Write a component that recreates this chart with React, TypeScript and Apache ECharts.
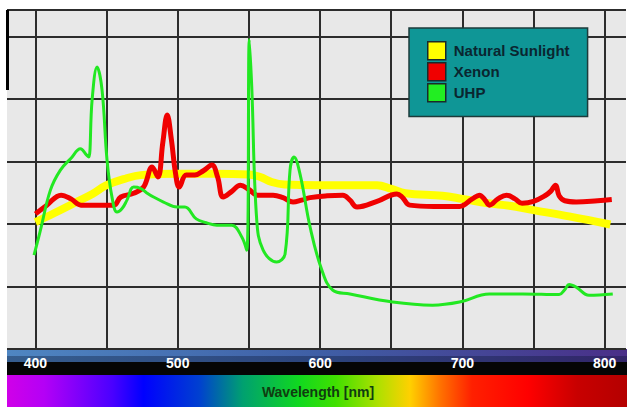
import React, { useEffect, useRef } from 'react';
import * as echarts from 'echarts';

// Natural Sunlight
const sunWl = [400, 413, 427, 440, 450, 464, 474, 500, 525, 550, 558, 566, 575, 600, 640, 650, 660, 686, 700, 718, 733, 750, 775, 804];
const sunVal = [2.03, 2.17, 2.33, 2.48, 2.62, 2.73, 2.78, 2.80, 2.80, 2.79, 2.75, 2.67, 2.63, 2.62, 2.62, 2.56, 2.49, 2.45, 2.40, 2.33, 2.29, 2.22, 2.12, 1.99];

// Xenon
const xenonWl = [400, 408, 418, 425, 432, 445, 455, 460, 469, 476, 482, 486, 489.5, 492.6, 495.5, 498.5, 501, 506, 512, 518, 524, 528, 532, 538, 544, 550, 556, 567, 574, 581, 587, 593, 605, 616, 621, 626, 640, 654, 658, 663, 680, 698, 707, 712, 716, 719, 725, 731, 737, 742, 750, 758, 762, 765.5, 768, 772, 780, 795, 805];
const xenonVal = [2.16, 2.30, 2.46, 2.40, 2.30, 2.30, 2.30, 2.43, 2.49, 2.59, 2.91, 2.75, 3.30, 3.74, 3.35, 2.80, 2.59, 2.78, 2.78, 2.85, 2.94, 2.75, 2.43, 2.52, 2.62, 2.55, 2.46, 2.46, 2.42, 2.35, 2.38, 2.42, 2.45, 2.46, 2.38, 2.27, 2.36, 2.48, 2.42, 2.30, 2.28, 2.28, 2.40, 2.46, 2.38, 2.30, 2.40, 2.46, 2.40, 2.33, 2.36, 2.45, 2.52, 2.62, 2.45, 2.37, 2.35, 2.37, 2.39];

// UHP
const uhpWl = [399, 403.5, 410.5, 417.5, 425, 431.6, 436, 437.5, 439.8, 443.3, 446.8, 450.3, 454, 457.3, 461, 464.3, 469, 473.7, 478, 483, 490, 499.4, 505, 513, 520, 527.5, 538, 545, 548.5, 550.3, 552, 555.5, 560, 569.5, 575.4, 578.9, 581.7, 585.9, 593, 601, 609, 621, 651, 679, 698, 719, 742.5, 768, 772, 775, 780, 789, 805.7];
const uhpVal = [1.50, 1.90, 2.54, 2.86, 3.05, 3.20, 3.10, 3.07, 3.98, 4.51, 4.14, 3.02, 2.40, 2.19, 2.25, 2.38, 2.59, 2.57, 2.50, 2.43, 2.35, 2.27, 2.27, 2.08, 2.02, 1.98, 1.98, 1.79, 1.58, 4.95, 4.19, 2.06, 1.58, 1.39, 1.52, 2.86, 3.07, 2.80, 1.95, 1.28, 0.94, 0.88, 0.75, 0.70, 0.75, 0.88, 0.88, 0.87, 0.95, 1.03, 0.99, 0.86, 0.88];

const gridTicks = [400, 450, 500, 550, 600, 650, 700, 750, 800];
const xTickLabels = [400, 500, 600, 700, 800];
const seriesNames = ['Natural Sunlight', 'Xenon', 'UHP'];

const zip = (a: number[], b: number[]) => a.map((x, i) => [x, b[i]]);

const FONT = 'Liberation Sans, Arial, sans-serif';

export default function App() {
  const ref = useRef<HTMLDivElement>(null);
  useEffect(() => {
    const chart = echarts.init(ref.current!, null, { renderer: 'svg' });
    const lineBase = {
      type: 'line' as const,
      symbol: 'none',
      showSymbol: false,
      smooth: 0.4,
    };
    chart.setOption({
      animation: false,
      grid: {
        left: 7,
        right: 1,
        top: 10,
        bottom: 58,
        show: true,
        backgroundColor: '#e8e8e8',
        borderWidth: 0,
      },
      xAxis: {
        type: 'value',
        min: 380,
        max: 815,
        axisLine: { show: false },
        axisTick: { show: false, customValues: gridTicks },
        axisLabel: {
          customValues: xTickLabels,
          color: '#ffffff',
          fontFamily: FONT,
          fontWeight: 'bold',
          fontSize: 14,
          margin: 7,
        },
        splitLine: { show: true, lineStyle: { color: '#2c2c2c', width: 2 } },
      },
      yAxis: {
        type: 'value',
        min: 0,
        max: 5.42,
        interval: 1,
        axisLine: { show: false },
        axisTick: { show: false },
        axisLabel: { show: false },
        splitLine: { show: true, lineStyle: { color: '#2c2c2c', width: 2 } },
      },
      legend: {
        data: seriesNames,
        orient: 'vertical',
        left: 409,
        top: 28,
        icon: 'rect',
        itemWidth: 18,
        itemHeight: 18,
        itemGap: 1.5,
        padding: [13, 18, 14, 18],
        backgroundColor: '#0f9696',
        borderColor: '#1d3b3b',
        borderWidth: 1.5,
        itemStyle: { borderColor: '#1a2a2a', borderWidth: 1.5 },
        textStyle: {
          color: '#0a2630',
          fontFamily: FONT,
          fontWeight: 'bold',
          fontSize: 15,
          padding: [0, 0, 0, 3],
        },
      },
      graphic: [
        {
          type: 'rect',
          z: -1,
          shape: { x: 7, y: 349, width: 620, height: 13 },
          style: {
            fill: {
              type: 'linear', x: 0, y: 0, x2: 1, y2: 0,
              colorStops: [
                { offset: 0, color: '#4f86c2' },
                { offset: 0.5, color: '#3f5fa6' },
                { offset: 1, color: '#4a2f88' },
              ],
            },
          },
        },
        {
          type: 'rect',
          z: -1,
          shape: { x: 7, y: 356, width: 620, height: 6 },
          style: { fill: 'rgba(10,20,50,0.35)' },
        },
        {
          type: 'rect',
          z: -1,
          shape: { x: 7, y: 362, width: 620, height: 13 },
          style: { fill: '#050505' },
        },
        {
          type: 'rect',
          z: -1,
          shape: { x: 7, y: 375, width: 620, height: 32 },
          style: {
            fill: {
              type: 'linear', x: 0, y: 0, x2: 1, y2: 0,
              colorStops: [
                { offset: 0, color: '#d000e8' },
                { offset: 0.06, color: '#b400f6' },
                { offset: 0.17, color: '#4a00ff' },
                { offset: 0.22, color: '#0000ff' },
                { offset: 0.31, color: '#0040d0' },
                { offset: 0.38, color: '#00a070' },
                { offset: 0.47, color: '#10d820' },
                { offset: 0.53, color: '#40e000' },
                { offset: 0.6, color: '#b0e000' },
                { offset: 0.65, color: '#ffd000' },
                { offset: 0.7, color: '#ff7000' },
                { offset: 0.75, color: '#ff2000' },
                { offset: 0.84, color: '#ff0000' },
                { offset: 0.92, color: '#c80000' },
                { offset: 1, color: '#b40000' },
              ],
            },
          },
        },
        {
          type: 'line',
          z: 5,
          shape: { x1: 7.5, y1: 10, x2: 7.5, y2: 90 },
          style: { stroke: '#000', lineWidth: 3 },
        },
        {
          type: 'text',
          z: 10,
          x: 318,
          y: 392,
          style: {
            text: 'Wavelength [nm]',
            fill: '#103c10',
            font: 'bold 14px Liberation Sans, Arial, sans-serif',
            textAlign: 'center',
            textVerticalAlign: 'middle',
          },
        },
      ],
      series: [
        {
          ...lineBase,
          name: seriesNames[0],
          data: zip(sunWl, sunVal),
          lineStyle: { color: '#ffff00', width: 8 },
          itemStyle: { color: '#ffff00' },
        },
        {
          ...lineBase,
          name: seriesNames[1],
          data: zip(xenonWl, xenonVal),
          lineStyle: { color: '#f00000', width: 5 },
          itemStyle: { color: '#f00000' },
        },
        {
          ...lineBase,
          name: seriesNames[2],
          data: zip(uhpWl, uhpVal),
          lineStyle: { color: '#22e822', width: 3 },
          itemStyle: { color: '#22ee22' },
        },
      ],
    });
    return () => chart.dispose();
  }, []);
  return (
    <div
      ref={ref}
      style={{ position: 'absolute', left: 0, top: 0, width: 627, height: 407, background: '#ffffff' }}
    />
  );
}
